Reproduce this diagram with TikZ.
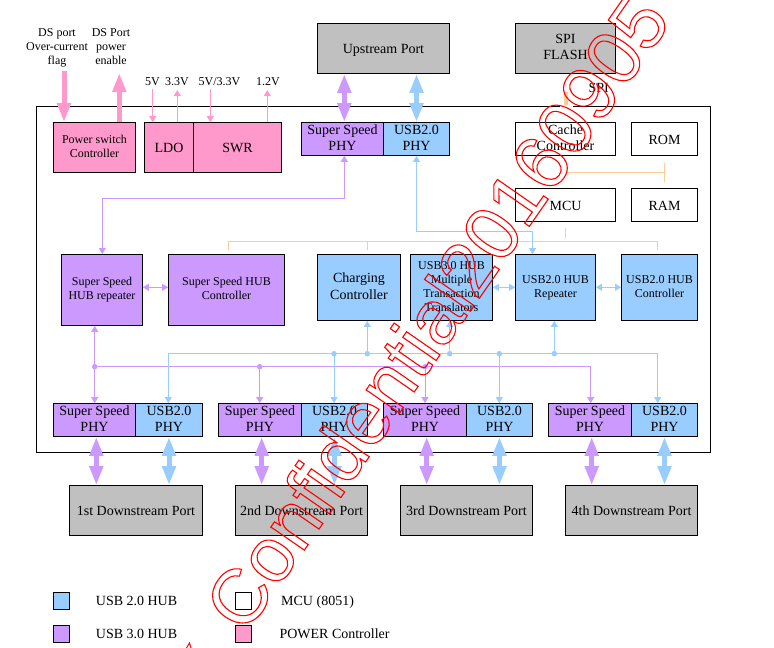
\documentclass[tikz,border=0pt]{standalone}
\usepackage{fontspec}
\setmainfont{Liberation Serif}
\newfontfamily\markfont{Liberation Sans}
\usepackage{xcolor}
\usetikzlibrary{arrows.meta, positioning, calc}
\definecolor{hubblue}{RGB}{153,204,255}
\definecolor{hubpurple}{RGB}{204,153,255}
\definecolor{hubpink}{RGB}{255,153,204}
\definecolor{hubgrey}{RGB}{192,192,192}
\definecolor{hubbus}{RGB}{255,204,153}
\newcommand{\blkstrut}{\rule[-.2em]{0pt}{1.17em}}
\tikzset{
  blk/.style={draw=black,line width=0.8pt,inner sep=0pt,align=center,font=\fontsize{14}{16.5}\selectfont,
    execute at begin node=\blkstrut,execute at end node=\blkstrut},
  small/.style={font=\fontsize{12}{14}\selectfont},
  lbl/.style={inner sep=0pt,align=center,font=\fontsize{12}{14}\selectfont,
    execute at begin node=\blkstrut,execute at end node=\blkstrut},
  leg/.style={inner sep=0pt,anchor=west,font=\fontsize{14}{16}\selectfont,execute at begin node=\blkstrut},
  fat/.style={line width=5pt,{Triangle[width=13pt,length=19pt]}-{Triangle[width=13pt,length=19pt]}},
  fatone/.style={line width=5pt,-{Triangle[width=13pt,length=19pt]}},
  thin/.style={line width=0.8pt,{Triangle[width=7pt,length=6pt]}-{Triangle[width=7pt,length=6pt]}},
  single/.style={line width=0.8pt,-{Triangle[width=7pt,length=6pt]}},
  dot/.style={circle,inner sep=0pt,minimum size=5.5pt},
  legbox/.style={draw=black,line width=0.8pt,minimum size=16.5pt,inner sep=0pt},
  bus/.style={hubbus,line width=0.8pt},
}
\begin{document}
\begin{tikzpicture}[x=1pt,y=-1pt]
\useasboundingbox (0,0) rectangle (774,648);
% chip frame
\node[draw=black,line width=0.8pt,inner sep=0pt,minimum width=674pt,minimum height=346pt] (chip) at (373.5,279.5) {};
\coordinate (gapl) at (560,106.5);
\coordinate (gapr) at (573,106.5);
\draw[white,line width=1.5pt] (gapl) -- (gapr);

% ports
\node[blk,fill=hubgrey,minimum width=132pt,minimum height=50pt] (up) at (383.5,48.5) {Upstream Port};
\node[blk,fill=hubgrey,minimum width=100pt,minimum height=50pt] (flash) at (565.5,48.5) {SPI\\FLASH};
\node[blk,fill=hubgrey,minimum width=133pt,minimum height=50pt] (ds1) at (136,510.5) {1st Downstream Port};
\node[blk,fill=hubgrey,minimum width=132pt,minimum height=50pt] (ds2) at (301.5,510.5) {2nd Downstream Port};
\node[blk,fill=hubgrey,minimum width=132pt,minimum height=50pt] (ds3) at (466.5,510.5) {3rd Downstream Port};
\node[blk,fill=hubgrey,minimum width=132pt,minimum height=50pt] (ds4) at (631.5,510.5) {4th Downstream Port};

% power
\node[blk,small,fill=hubpink,minimum width=82pt,minimum height=50pt] (psw) at (94.5,147.5) {Power switch\\Controller};
\node[blk,fill=hubpink,minimum width=49pt,minimum height=50pt] (ldo) at (169,147.5) {LDO};
\node[blk,fill=hubpink,minimum width=88pt,minimum height=50pt] (swr) at (237.5,147.5) {SWR};

% upstream phy
\node[blk,fill=hubpurple,minimum width=82pt,minimum height=33pt] (ssup) at (342.5,139) {Super Speed\\PHY};
\node[blk,fill=hubblue,minimum width=66pt,minimum height=33pt] (usbup) at (416.5,139) {USB2.0\\PHY};

% mcu block
\node[blk,minimum width=100pt,minimum height=33pt] (cache) at (565.5,139) {Cache\\Controller};
\node[blk,minimum width=66pt,minimum height=33pt] (rom) at (664.5,139) {ROM};
\node[blk,minimum width=100pt,minimum height=33pt] (mcu) at (565.5,205) {MCU};
\node[blk,minimum width=66pt,minimum height=33pt] (ram) at (664.5,205) {RAM};

% middle row
\node[blk,small,fill=hubpurple,minimum width=81pt,minimum height=71pt] (ssrep) at (102,290) {Super Speed\\HUB repeater};
\node[blk,small,fill=hubpurple,minimum width=116pt,minimum height=71pt] (ssctl) at (226.5,290) {Super Speed HUB\\Controller};
\node[blk,fill=hubblue,minimum width=83pt,minimum height=66pt] (chg) at (359,287.5) {Charging\\Controller};
\node[blk,small,fill=hubblue,minimum width=82pt,minimum height=66pt] (tt) at (451.5,287.5) {USB3.0 HUB\\Multiple\\Transaction\\Translators};
\node[blk,small,fill=hubblue,minimum width=80pt,minimum height=66pt] (rep) at (555.5,287.5) {USB2.0 HUB\\Repeater};
\node[blk,small,fill=hubblue,minimum width=76pt,minimum height=66pt] (ctl) at (659.5,287.5) {USB2.0 HUB\\Controller};

% downstream phys
\foreach \n/\xa/\wa/\xb/\wb in {1/94.5/82/169/67,2/260/83/334.5/66,3/425/83/499.5/66,4/590/83/664.5/66}{
  \node[blk,fill=hubpurple,minimum width=\wa pt,minimum height=33pt] (ss\n) at (\xa,420) {Super Speed\\PHY};
  \node[blk,fill=hubblue,minimum width=\wb pt,minimum height=33pt] (usb\n) at (\xb,420) {USB2.0\\PHY};
}

% fat links
\draw[fat,hubpurple] (ssup.north -| 344.3,0) -- (up.south -| 344.3,0);
\draw[fat,hubblue] (usbup.north) -- (up.south -| usbup.north);
\draw[fat,hubpurple] (ss1.south -| 96.3,0) -- (ds1.north -| 96.3,0);
\draw[fat,hubblue] (usb1.south) -- (ds1.north -| usb1.south);
\draw[fat,hubpurple] (ss2.south -| 261.7,0) -- (ds2.north -| 261.7,0);
\draw[fat,hubblue] (usb2.south) -- (ds2.north -| usb2.south);
\draw[fat,hubpurple] (ss3.south -| 426.7,0) -- (ds3.north -| 426.7,0);
\draw[fat,hubblue] (usb3.south) -- (ds3.north -| usb3.south);
\draw[fat,hubpurple] (ss4.south -| 591.7,0) -- (ds4.north -| 591.7,0);
\draw[fat,hubblue] (usb4.south) -- (ds4.north -| usb4.south);

% power labels and arrows
\node[lbl] (ocflag) at (57,48) {DS port\\Over-current\\flag};
\node[lbl] (pwren) at (111,48) {DS Port\\power\\enable};
\node[lbl] (v5) at (152.5,81) {5V};
\node[lbl] (v33) at (177,81) {3.3V};
\node[lbl] (v53) at (219.5,81) {5V/3.3V};
\node[lbl] (v12) at (268,81) {1.2V};
\coordinate (ocin) at (64,71);
\coordinate (enout) at (119.3,73);
\draw[fatone,hubpink] (ocin) -- (ocin |- psw.north);
\draw[fatone,hubpink] (enout |- psw.north) -- (enout);
\coordinate (v5t) at (152.7,89);
\coordinate (v33t) at (177.3,90);
\coordinate (v53t) at (210.3,89);
\coordinate (v12t) at (267.3,90);
\draw[single,hubpink] (v5t) -- (v5t |- ldo.north);
\draw[single,hubpink] (v33t |- ldo.north) -- (v33t);
\draw[single,hubpink] (v53t) -- (v53t |- swr.north);
\draw[single,hubpink] (v12t |- swr.north) -- (v12t);

% orange bus
\coordinate (romtap) at (664.5,162.7);
\coordinate (ramtap) at (664.5,181.7);
\coordinate (buscache) at (565.7,172.5);
\coordinate (busl) at (228,241.5);
\coordinate (busr) at (657.7,241.5);
\coordinate (stubl) at (228,250);
\coordinate (stubm) at (367,250);
\coordinate (stubr) at (657.7,250);
\coordinate (mcustub) at (565.7,228);
\coordinate (mcuend) at (565.7,238);
\draw[bus] (romtap) -- (ramtap);
\draw[bus] (buscache) -- (romtap |- buscache);
\draw[bus] (stubl) -- (busl) -- (busr) -- (stubr);
\draw[bus] (stubm) -- (stubm |- busl);
\draw[bus] (mcustub) -- (mcuend);
\coordinate (spia) at (565.8,92);
\coordinate (spib) at (565.8,105);
\draw[hubbus,line width=4.3pt] (spia) -- (spib);
\node[inner sep=0pt,font=\fontsize{14}{16}\selectfont] (spi) at (598.7,88) {SPI};

% purple links
\coordinate (ssbusl) at (94.7,366.7);
\coordinate (ssbusr) at (590.7,366.7);
\draw[thin,hubpurple] (ssup.south -| 344.3,0) |- (102.3,198.3) -- (ssrep.north -| 102.3,0);
\draw[thin,hubpurple] (ssrep.east |- 0,287.3) -- (ssctl.west |- 0,287.3);
\draw[thin,hubpurple] (ssrep.south -| ssbusl) -- (ss1.north -| ssbusl);
\draw[single,hubpurple] (ssbusl) -- (ssbusr) -- (ss4.north -| ssbusr);
\draw[single,hubpurple] (259.7,366.7) -- (ss2.north -| 259.7,0);
\draw[single,hubpurple] (425,366.7) -- (ss3.north -| 425,0);
\foreach \x/\n in {94.7/a,259.7/b,425/c}
  \node[dot,fill=hubpurple] (ssdot\n) at (\x,366.7) {};

% blue links
\coordinate (usbbusl) at (168.3,353.7);
\coordinate (usbbusr) at (657.7,353.7);
\draw[thin,hubblue] (usbup.south) |- (532.5,231) -- (rep.north -| 532.5,0);
\draw[thin,hubblue] (tt.east |- 0,287.3) -- (rep.west |- 0,287.3);
\draw[thin,hubblue] (rep.east |- 0,287.3) -- (ctl.west |- 0,287.3);
\draw[single,hubblue] (usbbusl) -- (usb1.north -| usbbusl);
\draw[single,hubblue] (usbbusl) -- (usbbusr) -- (usb4.north -| usbbusr);
\draw[single,hubblue] (334,353.7) -- (usb2.north -| 334,0);
\draw[single,hubblue] (499.3,353.7) -- (usb3.north -| 499.3,0);
\draw[single,hubblue] (367.3,353.7) -- (chg.south -| 367.3,0);
\draw[single,hubblue] (449.7,353.7) -- (tt.south -| 449.7,0);
\draw[single,hubblue] (554.3,353.7) -- (rep.south -| 554.3,0);
\foreach \x/\n in {334/a,367.3/b,449.7/c,499.3/d,554.3/e}
  \node[dot,fill=hubblue] (usbdot\n) at (\x,353.7) {};

% legend
\node[legbox,fill=hubblue] (legblue) at (61.5,601) {};
\node[legbox,fill=hubpurple] (legpurple) at (61.5,634) {};
\node[legbox,fill=white] (legwhite) at (243.5,601) {};
\node[legbox,fill=hubpink] (legpink) at (243.5,634) {};
\node[leg] (tblue) at (95.7,600) {USB 2.0 HUB};
\node[leg] (tpurple) at (95.7,633) {USB 3.0 HUB};
\node[leg] (twhite) at (281,600) {MCU (8051)};
\node[leg] (tpink) at (279.3,633) {POWER Controller};

% watermark
\node[inner sep=0pt,anchor=base west,rotate=55.2,text=red] (mark) at (245,635.5) {\fontsize{77}{78}\markfont\special{pdf:code q 1 Tr 1.1 w 1 0 0 RG}Confidential20160905\special{pdf:code Q}};
\coordinate (tipa) at (186.5,648);
\coordinate (tipb) at (189.5,643);
\coordinate (tipc) at (191,648);
\draw[red,line width=1pt] (tipa) -- (tipb) -- (tipc);
\end{tikzpicture}
\end{document}
